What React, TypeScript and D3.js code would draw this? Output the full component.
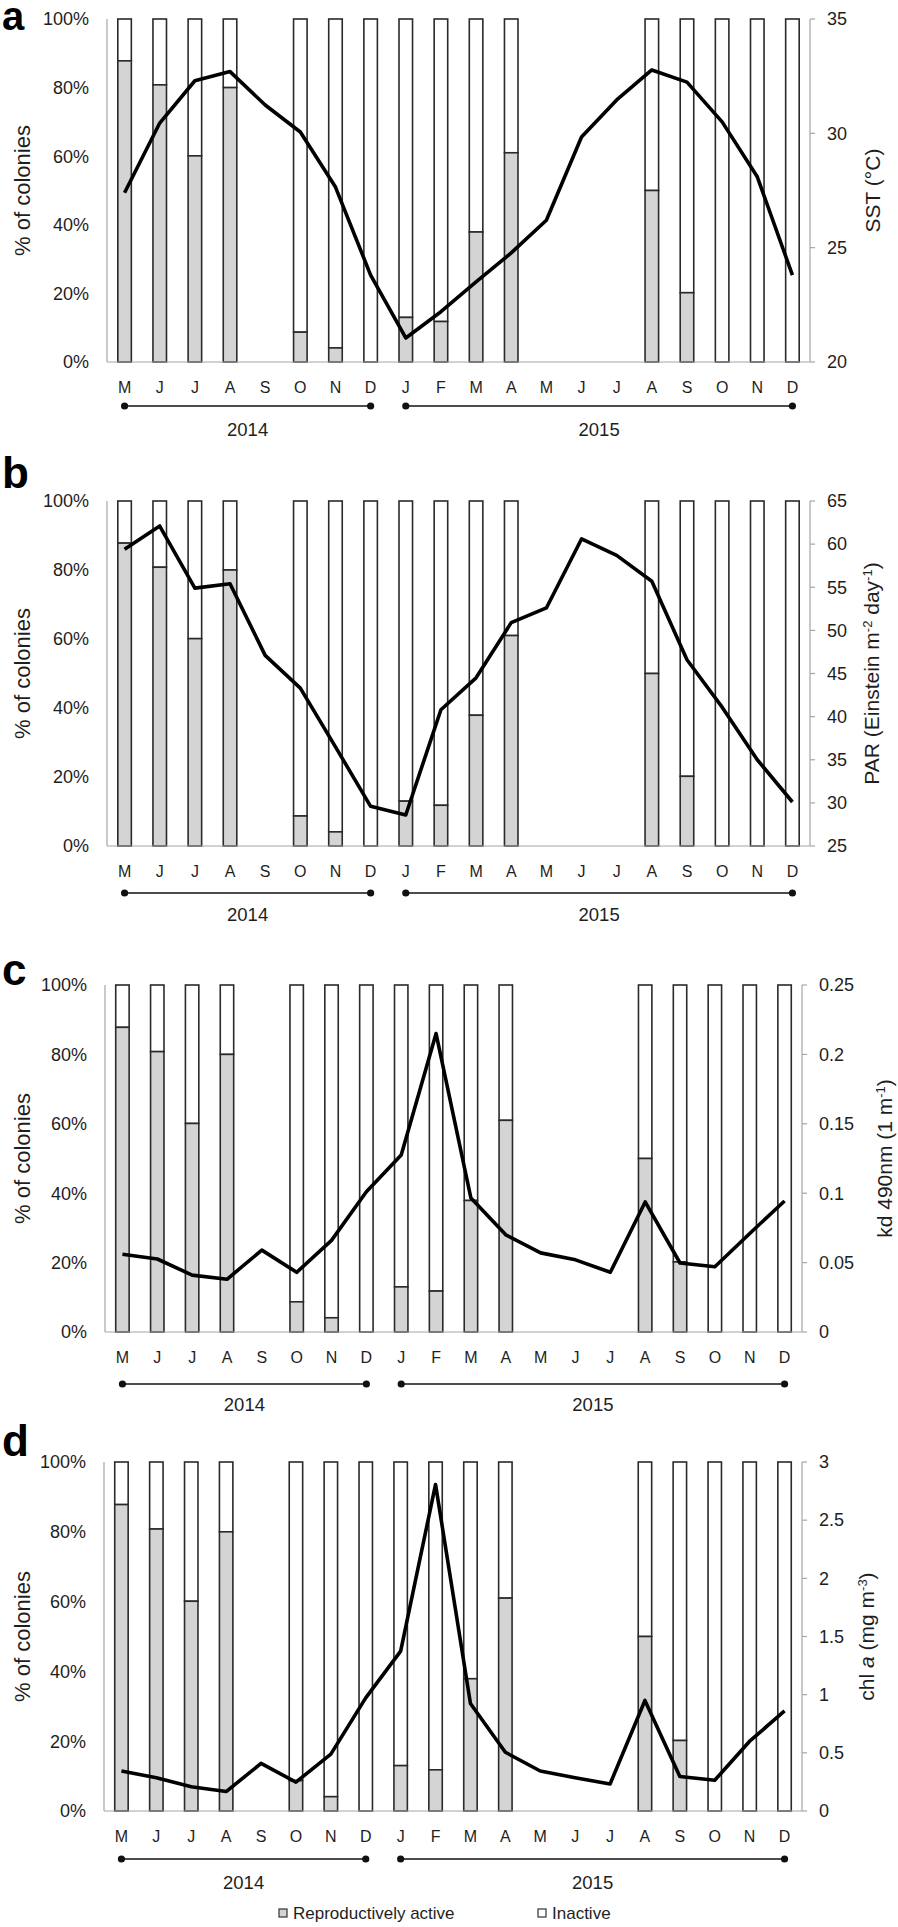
import React from "react";
import * as d3 from "d3";

// ---------- DATA ----------
const months = ["M", "J", "J", "A", "S", "O", "N", "D", "J", "F", "M", "A", "M", "J", "J", "A", "S", "O", "N", "D"];
const years = ["2014", "2015"];
// % of colonies reproductively active (null = no sample)
const activePct: (number | null)[] = [87.8, 80.8, 60.1, 80, null, 8.7, 4.1, 0, 13, 11.8, 37.9, 61, null, null, null, 50, 20.2, 0, 0, 0];
const sst = [27.4, 30.45, 32.3, 32.7, 31.24, 30.06, 27.65, 23.8, 21.05, 22.2, 23.5, 24.77, 26.2, 29.84, 31.46, 32.77, 32.24, 30.5, 28.1, 23.8];
const par = [59.4, 62.1, 54.9, 55.4, 47.1, 43.3, 36.5, 29.6, 28.6, 40.8, 44.5, 50.9, 52.6, 60.6, 58.7, 55.7, 46.6, 41.1, 35, 30.1];
const kd = [0.056, 0.0526, 0.041, 0.038, 0.059, 0.043, 0.066, 0.101, 0.1275, 0.215, 0.0965, 0.07, 0.057, 0.052, 0.043, 0.0937, 0.0497, 0.047, 0.071, 0.0944];
const chl = [0.344, 0.286, 0.209, 0.167, 0.409, 0.248, 0.489, 0.972, 1.374, 2.807, 0.924, 0.505, 0.344, 0.286, 0.232, 0.95, 0.296, 0.264, 0.6, 0.86];
const pctTicks = [0, 20, 40, 60, 80, 100];
const sstTicks = [20, 25, 30, 35];
const parTicks = [25, 30, 35, 40, 45, 50, 55, 60, 65];
const kdTicks = [0, 0.05, 0.1, 0.15, 0.2, 0.25];
const chlTicks = [0, 0.5, 1, 1.5, 2, 2.5, 3];
const legendLabels = ["Reproductively active", "Inactive"];

const FONT = "'Liberation Sans', Arial, sans-serif";
const TXT = "#1e1e1e";
const AXIS = "#a6a6a6";
const BAR_STROKE = "#2a2a2a";
const ACTIVE_FILL = "#d4d4d4";

type Panel = {
  letter: string;
  left: number; right: number; top: number; bottom: number;
  letterY: number;
  values: number[];
  ticks: number[];
  fmt: (v: number) => string;
  title: React.ReactNode;
  titleX: number;
  lineY: number; yearY: number;
};

const sup = (s: string) => (
  <tspan baselineShift="super" fontSize="13">{s}</tspan>
);

const panels: Panel[] = [
  {
    letter: "a", left: 107, right: 810, top: 19, bottom: 362, letterY: 30,
    values: sst, ticks: sstTicks, fmt: (v) => String(v),
    title: <>SST (°C)</>, titleX: 873, lineY: 406, yearY: 430,
  },
  {
    letter: "b", left: 107, right: 810, top: 501, bottom: 846, letterY: 488,
    values: par, ticks: parTicks, fmt: (v) => String(v),
    title: <>PAR (Einstein m{sup("-2")} day{sup("-1")})</>, titleX: 872, lineY: 893, yearY: 915,
  },
  {
    letter: "c", left: 105, right: 802, top: 985, bottom: 1332, letterY: 985,
    values: kd, ticks: kdTicks, fmt: (v) => String(v),
    title: <>kd 490nm (1 m{sup("-1")})</>, titleX: 885, lineY: 1384, yearY: 1405,
  },
  {
    letter: "d", left: 104, right: 802, top: 1462, bottom: 1811, letterY: 1456,
    values: chl, ticks: chlTicks, fmt: (v) => String(v),
    title: <>chl <tspan fontStyle="italic">a</tspan> (mg m{sup("-3")})</>, titleX: 867, lineY: 1859, yearY: 1883,
  },
];

function PanelView({ p }: { p: Panel }) {
  const idx = months.map((_, i) => i);
  const x = d3.scaleBand<number>().domain(idx).range([p.left, p.right]).paddingInner(0.615).paddingOuter(0.3075);
  const yL = d3.scaleLinear().domain([0, 100]).range([p.bottom, p.top]);
  const yR = d3.scaleLinear().domain([p.ticks[0], p.ticks[p.ticks.length - 1]]).range([p.bottom, p.top]);
  const cx = (i: number) => (x(i) as number) + x.bandwidth() / 2;
  const line = d3.line<number>().x((_, i) => cx(i)).y((d) => yR(d));
  const midY = (p.top + p.bottom) / 2;
  const yearSpans = [[0, 7], [8, 19]];

  return (
    <g>
      <text x={2} y={p.letterY} fontFamily={FONT} fontWeight="bold" fontSize={p.letter === "a" ? 40 : 44} fill="#000">{p.letter}</text>
      {/* axes */}
      <line x1={p.left} x2={p.left} y1={p.top} y2={p.bottom} stroke={AXIS} strokeWidth={1.2} />
      <line x1={p.right} x2={p.right} y1={p.top} y2={p.bottom} stroke={AXIS} strokeWidth={1.2} />
      {p.ticks.map((t) => (
        <g key={t}>
          <line x1={p.right} x2={p.right + 5} y1={yR(t)} y2={yR(t)} stroke={AXIS} strokeWidth={1.2} />
          <text x={p.right + 17} y={yR(t)} dy="0.35em" fontFamily={FONT} fontSize="18" fill={TXT}>{p.fmt(t)}</text>
        </g>
      ))}
      {pctTicks.map((t) => (
        <text key={t} x={p.left - 18} y={yL(t)} dy="0.35em" textAnchor="end" fontFamily={FONT} fontSize="18" fill={TXT}>{t}%</text>
      ))}
      <text transform={`translate(22,${midY}) rotate(-90)`} textAnchor="middle" dy="0.35em" fontFamily={FONT} fontSize="22" fill={TXT}>% of colonies</text>
      <text transform={`translate(${p.titleX},${midY}) rotate(-90)`} textAnchor="middle" dy="0.35em" fontFamily={FONT} fontSize="21" fill={TXT}>{p.title}</text>
      {/* bars */}
      {activePct.map((a, i) => {
        if (a === null) return null;
        const bx = x(i) as number;
        const w = x.bandwidth();
        return (
          <g key={i}>
            <rect x={bx} y={yL(100)} width={w} height={yL(a) - yL(100)} fill="#fff" stroke={BAR_STROKE} strokeWidth={1.6} />
            {a > 0 && (
              <rect x={bx} y={yL(a)} width={w} height={yL(0) - yL(a)} fill={ACTIVE_FILL} stroke={BAR_STROKE} strokeWidth={1.6} />
            )}
          </g>
        );
      })}
      <line x1={p.left} x2={p.right} y1={p.bottom} y2={p.bottom} stroke={AXIS} strokeWidth={1.2} />
      {/* env line */}
      <path d={line(p.values) || ""} fill="none" stroke="#000" strokeWidth={3.6} strokeLinejoin="round" />
      {/* month labels */}
      {months.map((m, i) => (
        <text key={i} x={cx(i)} y={p.bottom + 25} dy="0.35em" textAnchor="middle" fontFamily={FONT} fontSize="16" fill={TXT}>{m}</text>
      ))}
      {/* year spans */}
      {yearSpans.map(([s, e], k) => (
        <g key={k}>
          <line x1={cx(s)} x2={cx(e)} y1={p.lineY} y2={p.lineY} stroke="#111" strokeWidth={1.5} />
          <circle cx={cx(s)} cy={p.lineY} r={3.6} fill="#111" />
          <circle cx={cx(e)} cy={p.lineY} r={3.6} fill="#111" />
          <text x={(cx(s) + cx(e)) / 2} y={p.yearY} dy="0.35em" textAnchor="middle" fontFamily={FONT} fontSize="18.5" fill={TXT}>{years[k]}</text>
        </g>
      ))}
    </g>
  );
}

export default function App() {
  return (
    <svg width={898} height={1927} style={{ position: "absolute", left: 0, top: 0, background: "#fff" }} xmlns="http://www.w3.org/2000/svg">
      <rect x={0} y={0} width={898} height={1927} fill="#fff" />
      {panels.map((p) => <PanelView key={p.letter} p={p} />)}
      {/* legend */}
      <g fontFamily={FONT} fontSize="17" fill={TXT}>
        <rect x={279} y={1909} width={8} height={8} fill={ACTIVE_FILL} stroke="#333" strokeWidth={1.2} />
        <text x={293} y={1913} dy="0.35em">{legendLabels[0]}</text>
        <rect x={538} y={1909} width={8} height={8} fill="#fff" stroke="#333" strokeWidth={1.2} />
        <text x={552} y={1913} dy="0.35em">{legendLabels[1]}</text>
      </g>
    </svg>
  );
}
